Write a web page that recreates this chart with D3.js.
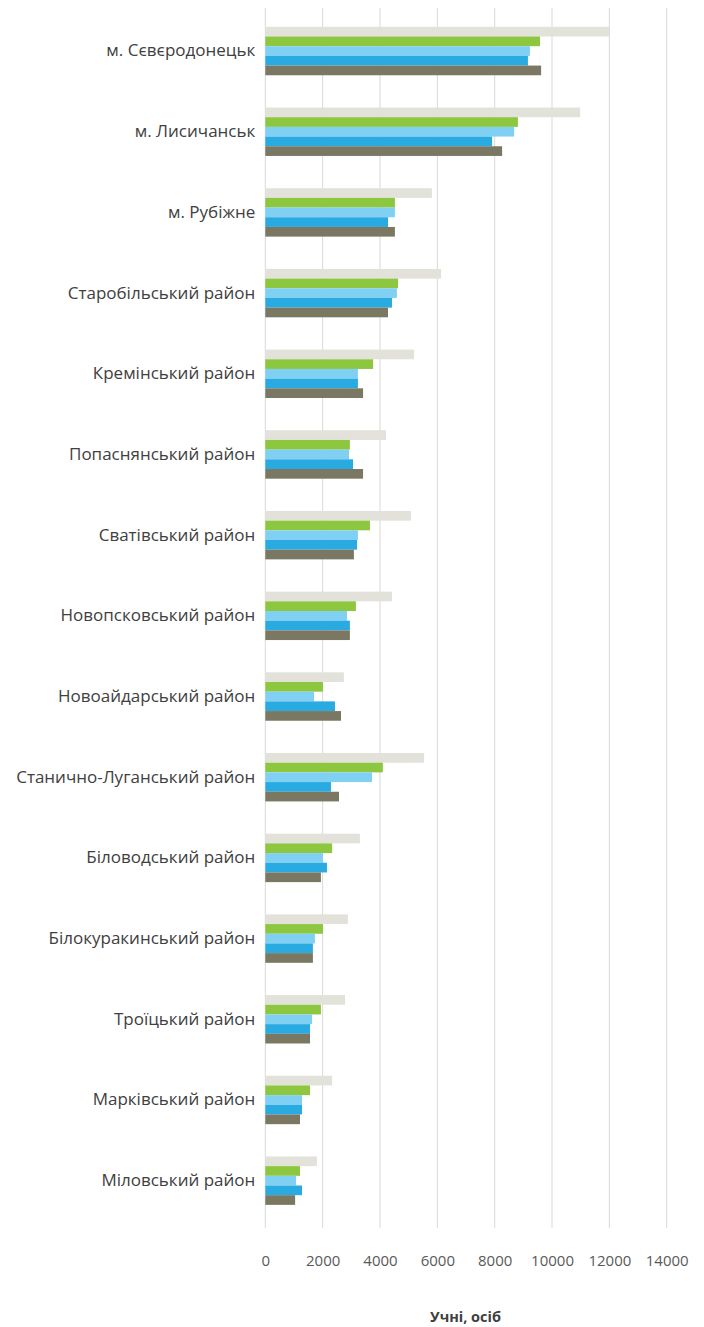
<!DOCTYPE html>
<html><head><meta charset="utf-8">
<script src="https://cdn.jsdelivr.net/npm/d3@7"></script>
<style>body{margin:0;background:#fff}svg{display:block}</style>
</head><body>
<script>
const categories = ["м. Сєвєродонецьк","м. Лисичанськ","м. Рубіжне","Старобільський район","Кремінський район","Попаснянський район","Сватівський район","Новопсковський район","Новоайдарський район","Станично-Луганський район","Біловодський район","Білокуракинський район","Троїцький район","Марківський район","Міловський район"];
const seriesGray   = [12000,10980,5810,6130,5190,4210,5080,4420,2740,5540,3300,2880,2780,2330,1800];
const seriesGreen  = [9580,8810,4520,4630,3760,2950,3650,3160,2010,4100,2330,2010,1940,1560,1210];
const seriesLBlue  = [9230,8680,4520,4590,3230,2920,3230,2850,1700,3720,2010,1730,1630,1280,1070];
const seriesBlue   = [9160,7910,4280,4420,3230,3060,3200,2950,2430,2290,2150,1660,1560,1280,1280];
const seriesOlive  = [9620,8260,4520,4280,3410,3410,3090,2950,2640,2570,1940,1660,1560,1210,1040];
const xTicks = [0,2000,4000,6000,8000,10000,12000,14000];
const axisTitle = "Учні, осіб";

const series = [seriesGray, seriesGreen, seriesLBlue, seriesBlue, seriesOlive];
const colors = ["#e2e1da","#8dc63f","#80d0f4","#29abe2","#7a7862"];

const W = 704, H = 1327;
const svg = d3.select("body").append("svg").attr("width", W).attr("height", H);

const x = d3.scaleLinear().domain([0,14000]).range([265.3, 666.7]);
const y = d3.scaleBand().domain(categories).range([10.7, 1221]).paddingInner(0.4).paddingOuter(0.2);
const ySub = d3.scaleBand().domain(d3.range(series.length)).range([0, y.bandwidth()]);

// gridlines
svg.append("g").selectAll("line").data(xTicks).join("line")
  .attr("x1", d => x(d)).attr("x2", d => x(d))
  .attr("y1", 8).attr("y2", 1228)
  .attr("stroke", "#d9d9d9").attr("stroke-width", 1);

// bars
const groups = svg.append("g").selectAll("g").data(categories).join("g")
  .attr("transform", c => `translate(0,${y(c)})`);
groups.selectAll("rect").data((c, i) => series.map((s, k) => ({k, v: s[i]}))).join("rect")
  .attr("x", x(0))
  .attr("y", d => ySub(d.k))
  .attr("width", d => x(d.v) - x(0))
  .attr("height", ySub.bandwidth())
  .attr("fill", d => colors[d.k]);

// category axis labels
const yAxis = d3.axisLeft(y).tickSize(0).tickPadding(10);
const ga = svg.append("g").attr("transform", `translate(${x(0)},0)`).call(yAxis);
ga.select(".domain").remove();
ga.selectAll("text").attr("font-family", "'Open Sans', sans-serif").attr("font-size", 17).attr("fill", "#404040");

// x axis labels
const xAxis = d3.axisBottom(x).tickValues(xTicks).tickSize(0).tickPadding(0).tickFormat(d3.format("d"));
const gx = svg.append("g").attr("transform", `translate(0,1255)`).call(xAxis);
gx.select(".domain").remove();
gx.selectAll("text").attr("font-family", "'Open Sans', sans-serif").attr("font-size", 15).attr("fill", "#595959");

svg.append("text").attr("x", 465.5).attr("y", 1322).attr("text-anchor", "middle")
  .attr("font-family", "'Open Sans', sans-serif").attr("font-size", 14.5).attr("font-weight", "bold").attr("fill", "#404040")
  .text(axisTitle);
</script>
</body></html>
